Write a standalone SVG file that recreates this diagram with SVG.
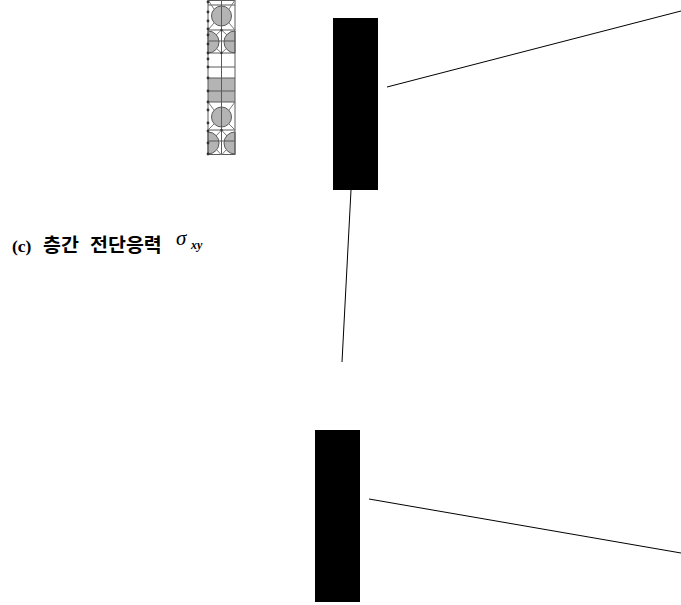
<svg xmlns="http://www.w3.org/2000/svg" width="681" height="605" viewBox="0 0 681 605">
<defs>
<style>
.g{stroke:#5a5a5a;stroke-width:1;fill:none}
.f{fill:#b4b4b4;stroke:#5a5a5a;stroke-width:1}
.w{fill:none;stroke:#777;stroke-width:1}
.d{fill:#333;stroke:none}
.block{fill:#000}
.ln{stroke:#000;stroke-width:1;fill:none}
.t{font-family:"Liberation Serif","Noto Sans CJK KR",serif;font-weight:bold;font-size:19.500px;fill:#000}
.s{font-family:"Liberation Serif",serif;font-style:italic;fill:#000}
</style>
</defs>
<g id="plate">
<rect x="208" y="0" width="27" height="155" fill="#fff"/>
<rect x="208" y="78" width="27" height="24" fill="#b4b4b4"/>
<circle class="f" cx="221.500" cy="16" r="10"/>
<circle class="f" cx="221.500" cy="117" r="10"/>
<path class="f" d="M208 31V53A11 11 0 0 0 208 31Z"/>
<path class="f" d="M235 31V53A11 11 0 0 1 235 31Z"/>
<path class="f" d="M208 132V154A11 11 0 0 0 208 132Z"/>
<path class="f" d="M235 132V154A11 11 0 0 1 235 132Z"/>
<path class="g" d="M208 .5H235M208 5H235M208 30H235M208 41H235M208 53H235M208 67H235M208 78H235M208 91H235M208 102H235M208 130H235M208 141H235M208 154.500H235"/>
<path class="g" d="M208 0V155M221.500 0V155M235 0V155"/>
<path class="w" d="M208 0L214 9M235 0L229 9M208 30L214 23M235 30L229 23M208 102L214 110M235 102L229 110M208 130L214 124M235 130L229 124M221.500 30L216 35M221.500 30L227 35M221.500 53L216 48M221.500 53L227 48M221.500 130L216 136M221.500 130L227 136M221.500 155L216 149M221.500 155L227 149"/>
<g class="d">
<circle cx="208" cy="2" r="1.400"/><circle cx="208" cy="12" r="1.400"/><circle cx="208" cy="21" r="1.400"/><circle cx="208" cy="29" r="1.400"/><circle cx="208" cy="35" r="1.400"/><circle cx="208" cy="44" r="1.400"/><circle cx="208" cy="53" r="1.400"/><circle cx="208" cy="59" r="1.400"/><circle cx="208" cy="67" r="1.400"/><circle cx="208" cy="78" r="1.400"/><circle cx="208" cy="91" r="1.400"/><circle cx="208" cy="102" r="1.400"/><circle cx="208" cy="110" r="1.400"/><circle cx="208" cy="123" r="1.400"/><circle cx="208" cy="131" r="1.400"/><circle cx="208" cy="143" r="1.400"/><circle cx="208" cy="154" r="1.400"/>
<circle cx="221.500" cy="30" r="1.200"/><circle cx="221.500" cy="53" r="1.200"/><circle cx="221.500" cy="130" r="1.200"/>
</g>
</g>
<g id="block-top"><rect class="block" x="333" y="18" width="45" height="172"/></g>
<g id="block-bottom"><rect class="block" x="315" y="430" width="45" height="172"/></g>
<g id="connectors">
<path class="ln" d="M387 87L681 11"/>
<path class="ln" d="M351 190L342 362"/>
<path class="ln" d="M369 499L681 553"/>
</g>
<g id="caption">
<text class="t" x="12" y="252" style="font-size:17.500px">(c)</text>
<text class="t" x="43" y="252">층간</text>
<text class="t" x="90" y="252">전단응력</text>
<text class="s" x="176" y="245" font-size="21">σ</text>
<text class="s" x="191" y="249" font-size="12" font-weight="bold">xy</text>
</g>
</svg>
